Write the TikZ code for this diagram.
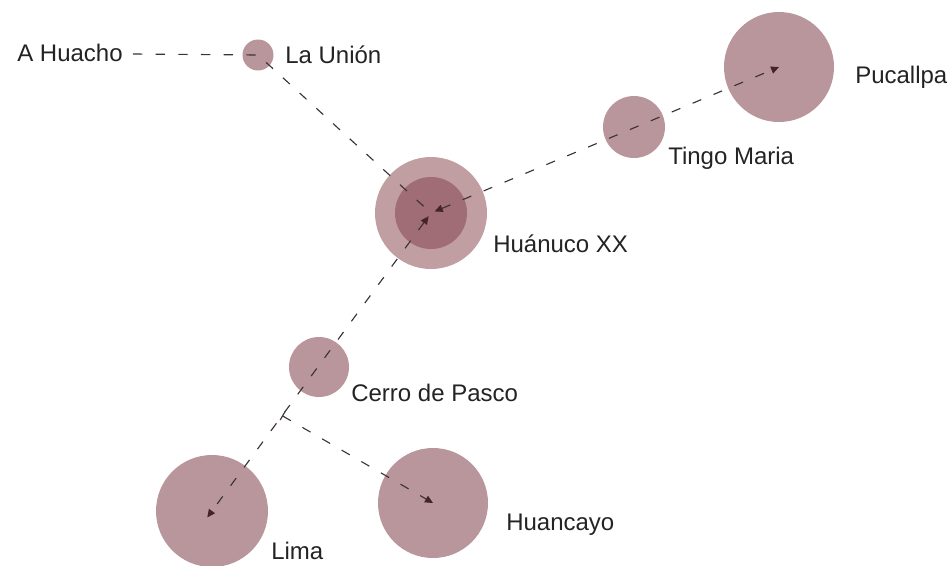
\documentclass[tikz,border=0pt]{standalone}
\usepackage{fontspec}
\setmainfont{Liberation Sans}
\usetikzlibrary{arrows.meta,calc}

\definecolor{ortfarbe}{RGB}{185, 150, 155}
\definecolor{hubfarbe}{RGB}{192, 158, 162}
\definecolor{kernfarbe}{RGB}{160, 108, 118}
\definecolor{linie}{RGB}{60, 50, 54}
\definecolor{pfeil}{RGB}{70, 35, 42}
\definecolor{schrift}{RGB}{35, 35, 35}

\begin{document}
\begin{tikzpicture}[x=0.75pt, y=-0.75pt,
		ort/.style={circle, fill=ortfarbe, draw=none, inner sep=0pt},
		fluss/.style={draw=linie, line width=0.85pt, dash pattern=on 7pt off 10pt},
		beschriftung/.style={anchor=west, inner sep=0pt, text=schrift, font=\fontsize{18}{22}\selectfont},
		>={Triangle[length=6pt, width=5.5pt, color=pfeil]}]
		
		% Rahmen (Bildgroesse)
		\useasboundingbox (0,0) rectangle (951,565);
		
		% Orte (Kreise, Groesse ~ Bedeutung)
		\foreach \name/\x/\y/\r in {launion/258/55/15.5, pucallpa/779/67/55, tingo/634/127/31,
			cerro/319/367/30, lima/212/511/56, huancayo/433/503/55} {
			\node[ort, minimum size={2*\r*0.75pt}] (\name) at (\x,\y) {};
		}
		
		% Huanuco: Ring mit dunklerem Kern
		\node[ort, fill=hubfarbe, minimum size=84pt] (huanuco) at (431,213) {};
		\node[ort, fill=kernfarbe, minimum size=54pt] (huanucokern) at (431,213) {};
		
		% Beschriftung der Orte
		\node[beschriftung] (thuacho) at (17,53) {A Huacho};
		\node[beschriftung] (tlaunion) at (285,55) {La Unión};
		\node[beschriftung] (tpucallpa) at (855,77) {Pucallpa};
		\node[beschriftung] (ttingo) at (668,158) {Tingo Maria};
		\node[beschriftung] (thuanuco) at (493,244) {Huánuco XX};
		\node[beschriftung] (tcerro) at (351,393) {Cerro de Pasco};
		\node[beschriftung] (tlima) at (271,551) {Lima};
		\node[beschriftung] (thuancayo) at (506,525) {Huancayo};
		
		% Verbindungen (gestrichelt)
		\coordinate (huacho) at (133,54);
		\draw[fluss] (huacho) -- (launion.center) -- (huanuco.center);
		\draw[fluss, <->, shorten <=3pt] (huanuco.center) -- (pucallpa.center);
		\draw[fluss, <->, shorten <=3pt, shorten >=-6pt] (huanuco.center) -- (lima.center);
		
		% Abzweig nach Huancayo
		\coordinate (abzweig) at ($(huanuco)!0.68!(lima)$);
		\draw[fluss, {Bar[width=7pt, color=linie]}->] (abzweig) -- (huancayo.center);
		
	\end{tikzpicture}
\end{document}
